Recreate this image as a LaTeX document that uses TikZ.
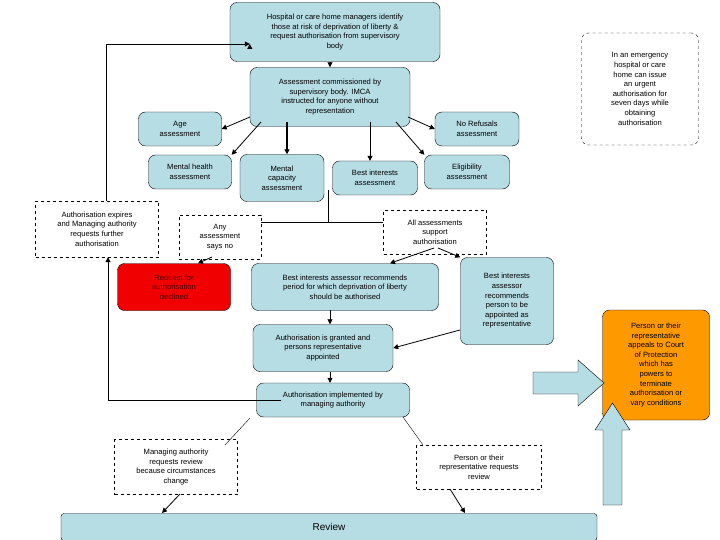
\documentclass[tikz,border=0pt]{standalone}
\usepackage{fontspec}
\setmainfont{Liberation Sans}
\usetikzlibrary{arrows.meta}
\definecolor{bluebox}{RGB}{183,221,228}
\definecolor{redbox}{RGB}{240,0,0}
\definecolor{orangebox}{RGB}{255,153,0}
\begin{document}
\begin{tikzpicture}[x=1pt,y=-1pt,
  every node/.style={font=\fontsize{7.6}{9.6}\selectfont, align=center, inner sep=1pt},
  rb/.style={draw, fill=bluebox, rounded corners=7pt},
  db/.style={draw, dashed, fill=white},
  arr/.style={-{Triangle[length=5pt,width=5pt]}, thick},
  thin/.style={draw, line width=0.4pt}]
\useasboundingbox (0,0) rectangle (720,540);
\node[rb, minimum width=210, minimum height=59] (top) at (335,32) {Hospital or care home managers identify\\those at risk of deprivation of liberty \&\\request authorisation from supervisory\\body};
\node[rb, minimum width=160, minimum height=59] (com) at (330,97) {Assessment commissioned by\\supervisory body. IMCA\\instructed for anyone without\\representation};
\node[rb, minimum width=83, minimum height=34] (age) at (180,129) {Age\\assessment};
\node[rb, minimum width=84, minimum height=34] (nor) at (477,129) {No Refusals\\assessment};
\node[rb, minimum width=83, minimum height=34] (mh) at (190,172) {Mental health\\assessment};
\node[rb, minimum width=84, minimum height=47] (mc) at (282,178) {Mental\\capacity\\assessment};
\node[rb, minimum width=85, minimum height=34] (bi) at (375,178) {Best interests\\assessment};
\node[rb, minimum width=85, minimum height=34] (el) at (467,172) {Eligibility\\assessment};
\node[db, minimum width=123, minimum height=56] (exp) at (97,229) {Authorisation expires\\and Managing authority\\requests further\\authorisation};
\node[db, minimum width=82, minimum height=44] (any) at (220,237) {Any\\assessment\\says no};
\node[db, minimum width=103, minimum height=44] (all) at (435,232) {All assessments\\support\\authorisation};
\node[rb, fill=redbox, minimum width=113, minimum height=47, text=black!70!red] (dec) at (174,287) {Request for\\authorisation\\declined};
\node[rb, minimum width=187, minimum height=47] (bip) at (345,287) {Best interests assessor recommends\\period for which deprivation of liberty\\should be authorised};
\node[rb, minimum width=93, minimum height=87] (bir) at (507,301) {Best interests\\assessor\\recommends\\person to be\\appointed as\\representative};
\node[draw, dashed, rounded corners=7pt, minimum width=117, minimum height=112] (em) at (640,89) {In an emergency\\hospital or care\\home can issue\\an urgent\\authorisation for\\seven days while\\obtaining\\authorisation};
\node[rb, minimum width=140, minimum height=47] (gr) at (323,348) {Authorisation is granted and\\persons representative\\appointed};
\node[rb, minimum width=153, minimum height=34] (imp) at (333,400) {Authorisation implemented by\\managing authority};
\node[db, minimum width=123, minimum height=55] (mar) at (176,467) {Managing authority\\requests review\\because circumstances\\change};
\node[db, minimum width=125, minimum height=44] (prr) at (479,467) {Person or their\\representative requests\\review};
\node[rb, rounded corners=3pt, minimum width=536, minimum height=27, font=\fontsize{10}{12}\selectfont] (rev) at (329,527) {Review};
\node[rb, fill=orangebox, minimum width=107, minimum height=110] (or) at (656,365) {Person or their\\representative\\appeals to Court\\of Protection\\which has\\powers to\\terminate\\authorisation or\\vary conditions};
\draw[fill=bluebox] (533,372) -- (578,372) -- (578,360) -- (604,383) -- (578,406) -- (578,394) -- (533,394) -- cycle;
\draw[fill=bluebox] (603,505) -- (603,430) -- (595,430) -- (612.5,403) -- (630,430) -- (622,430) -- (622,505) -- cycle;
% connectors
\draw[arr] (exp.north -| 106,0) -- (106,44) -- (top.west |- 0,44) ++(20,0);
\draw[arr] (exp.north) ++(9,0) |- ([xshift=20pt]top.west |- 0,44);
\draw[thick] ([xshift=25pt]imp.west) -- (108,400);
\draw[arr] (108,400) -- (exp.south -| 108,0);
\draw[arr] (top.south -| 330,0) -- (com.north -| 330,0);
\draw[arr] (250,117) -- (age.east);
\draw[arr] (261,122) -- (mh.north east);
\draw[arr, line width=1.5pt] (287,122) -- (mc.north -| 287,0);
\draw[arr] (370,122) -- (bi.north -| 370,0);
\draw[arr] (396,122) -- (el.north west);
\draw[arr] (408,117) -- (nor.west);
\draw (328,190) -- (328,222);
\draw (any.east |- 0,222) -- (all.west |- 0,222);
\draw[arr] (212,257) -- (dec.north -| 198,0);
\draw[arr] (434,248) -- (bip.north -| 390,0);
\draw[arr] (438,248) -- (bir.north west);
\draw[arr] (330,310) -- (gr.north -| 330,0);
\draw[arr] (330,372) -- (imp.north -| 330,0);
\draw[arr] (460,330) -- (gr.east);
\draw[thin] (250,418) -- (225,445);
\draw[thin] (403,417) -- (423,445);
\draw[arr] (180,494) -- (162,513);
\draw[arr] (450,489) -- (465,513);
\end{tikzpicture}
\end{document}
